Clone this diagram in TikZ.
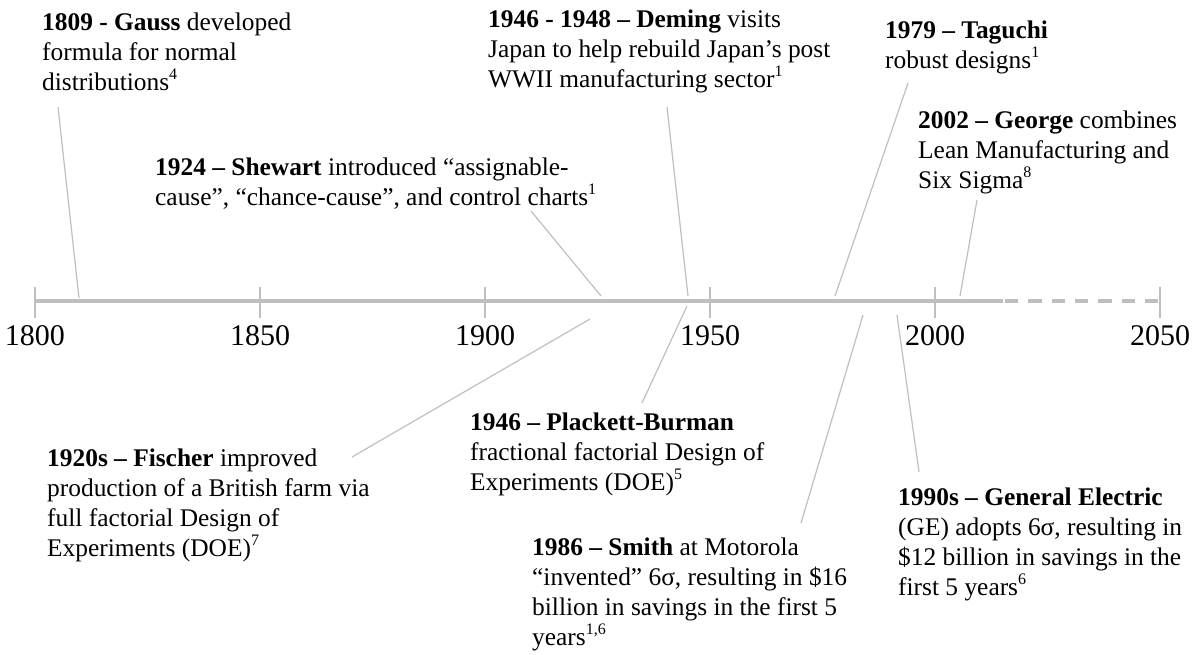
\documentclass[tikz,border=0pt]{standalone}
\usepackage{fontspec}
\setmainfont{Liberation Serif}
\definecolor{axisgray}{RGB}{191,191,191}
\newcommand{\sups}[1]{\raisebox{0.42em}{\fontsize{16}{16}\selectfont #1}}
\begin{document}
\begin{tikzpicture}[x=1pt,y=-1pt,
  evt/.style={anchor=base west,inner sep=0pt,align=left,font=\fontsize{25.4}{30}\selectfont},
  yearlbl/.style={anchor=base,inner sep=0pt,font=\fontsize{30}{30}\selectfont},
  conn/.style={draw=axisgray,line width=1.2pt},
  tickmark/.style={draw=axisgray,line width=1.3pt}]
\useasboundingbox (0,0) rectangle (1198,654);

% axis
\coordinate (a0) at (35,301);
\coordinate (a1) at (1003,301);
\coordinate (a1b) at (1005,301);
\coordinate (a2) at (1160,301);
\draw[axisgray,line width=3.2pt] (a0) -- (a1);
\draw[axisgray,line width=3.2pt,dash pattern=on 13.3pt off 10pt] (a1b) -- (a2);

% ticks and year labels
\foreach \yr/\xx in {1800/35,1850/260,1900/485,1950/710,2000/935,2050/1160}{
  \draw[tickmark] (\xx,287) -- (\xx,318);
  \node[yearlbl] (y\yr) at (\xx,345) {\yr};
}

% events (anchored at the baseline of the last line)
\node[evt] (gauss) at (42,90) {\textbf{1809 - Gauss} developed\\formula for normal\\distributions\sups{4}};
\node[evt] (shewart) at (155,205) {\textbf{1924 – Shewart} introduced “assignable-\\cause”, “chance-cause”, and control charts\sups{1}};
\node[evt] (deming) at (488,87) {\textbf{1946 - 1948 – Deming} visits\\Japan to help rebuild Japan’s post\\WWII manufacturing sector\sups{1}};
\node[evt] (taguchi) at (885,68) {\textbf{1979 – Taguchi}\\robust designs\sups{1}};
\node[evt] (george) at (918,188) {\textbf{2002 – George} combines\\Lean Manufacturing and\\Six Sigma\sups{8}};
\node[evt] (fischer) at (47,556) {\textbf{1920s – Fischer} improved\\production of a British farm via\\full factorial Design of\\Experiments (DOE)\sups{7}};
\node[evt] (plackett) at (470,490) {\textbf{1946 – Plackett-Burman}\\fractional factorial Design of\\Experiments (DOE)\sups{5}};
\node[evt] (smith) at (532,645) {\textbf{1986 – Smith} at Motorola\\“invented” 6σ, resulting in \$16\\billion in savings in the first 5\\years\sups{1,6}};
\node[evt] (ge) at (898,595) {\textbf{1990s – General Electric}\\(GE) adopts 6σ, resulting in\\\$12 billion in savings in the\\first 5 years\sups{6}};

% connector ends
\coordinate (gaussT) at (58,107);   \coordinate (gaussA) at (79,298);
\coordinate (shewT) at (531,211);   \coordinate (shewA) at (601,296);
\coordinate (demT) at (667,107);    \coordinate (demA) at (688,296);
\coordinate (tagT) at (908,83);     \coordinate (tagA) at (835,296);
\coordinate (geoT) at (977,200);    \coordinate (geoA) at (960,296);
\coordinate (fisA) at (590,319);    \coordinate (fisT) at (352,457);
\coordinate (plaA) at (687,306);    \coordinate (plaT) at (642,403);
\coordinate (smiA) at (863,315);    \coordinate (smiT) at (801,523);
\coordinate (geA) at (897,315);     \coordinate (geT) at (919,472);

\draw[conn] (gaussT) -- (gaussA);
\draw[conn] (shewT) -- (shewA);
\draw[conn] (demT) -- (demA);
\draw[conn] (tagT) -- (tagA);
\draw[conn] (geoT) -- (geoA);
\draw[conn] (fisA) -- (fisT);
\draw[conn] (plaA) -- (plaT);
\draw[conn] (smiA) -- (smiT);
\draw[conn] (geA) -- (geT);
\end{tikzpicture}
\end{document}
